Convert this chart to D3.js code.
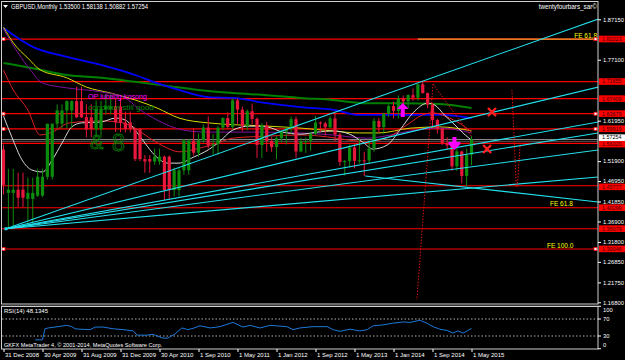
<!DOCTYPE html>
<html>
<head>
<meta charset="utf-8">
<script src="https://cdn.jsdelivr.net/npm/d3@7"></script>
<style>
  body { margin: 0; background: #000; }
  svg { display: block; font-family: "Liberation Sans", Arial, sans-serif; }
</style>
</head>
<body>
<svg id="chart" width="625" height="360"></svg>
<script>
// ---- data (bar index, price) ----
const tickBars = [0, 8, 16, 24, 32, 40, 48, 56, 64, 72, 80, 88, 96];
const tickLabels = ["31 Dec 2008", "30 Apr 2009", "31 Aug 2009", "31 Dec 2009", "30 Apr 2010",
  "1 Sep 2010", "1 May 2011", "1 Jan 2012", "1 Sep 2012", "1 May 2013", "1 Jan 2014",
  "1 Sep 2014", "1 May 2015"];
const priceTicks = [1.87150, 1.77100, 1.61950, 1.51900, 1.46950, 1.41850, 1.36900,
  1.31800, 1.26850, 1.21750, 1.16800];
const rsiTicks = [[100, 310], [70, 319], [30, 336], [0, 345]];   // level, label row

// early history comes in repeated pairs of bars
const opens = [1.548,1.440,1.440,1.448,1.448,1.425,1.425,1.433,1.433,1.480,
  1.480,1.612,1.612,1.645,1.645,1.668,1.668,1.628,1.628,1.598,
  1.598,1.648,1.648,1.655,1.655,1.615,1.615,1.599,1.599,1.524,
  1.524,1.518,1.518,1.530,1.530,1.447,1.447,1.496,1.496,1.570,
  1.540,1.571,1.6025,1.5575,1.561,1.602,1.626,1.604,1.670,1.647,
  1.606,1.643,1.624,1.559,1.608,1.569,1.554,1.576,1.592,1.600,
  1.623,1.543,1.5685,1.569,1.587,1.615,1.613,1.603,1.625,1.585,
  1.517,1.519,1.553,1.5195,1.521,1.5205,1.550,1.619,1.6035,1.637,
  1.656,1.644,1.6745,1.6675,1.683,1.6765,1.710,1.688,1.6595,1.621,
  1.5995,1.564,1.558,1.506,1.543,1.482,1.535];
const highs = [1.560,1.500,1.500,1.490,1.490,1.478,1.478,1.500,1.500,1.612,
  1.612,1.660,1.660,1.670,1.670,1.704,1.704,1.660,1.660,1.669,
  1.669,1.685,1.685,1.676,1.676,1.642,1.642,1.601,1.601,1.534,
  1.534,1.550,1.550,1.533,1.533,1.503,1.503,1.574,1.574,1.600,
  1.5875,1.6105,1.630,1.586,1.606,1.628,1.640,1.6745,1.6745,1.6545,
  1.6475,1.662,1.628,1.614,1.6165,1.578,1.5805,1.595,1.606,1.630,
  1.630,1.5775,1.5775,1.591,1.631,1.618,1.617,1.6305,1.638,1.590,
  1.522,1.560,1.561,1.575,1.542,1.572,1.626,1.626,1.639,1.660,
  1.6665,1.682,1.682,1.6855,1.6995,1.711,1.719,1.6895,1.664,1.624,
  1.601,1.5785,1.559,1.555,1.545,1.550,1.58138];
const lows = [1.436,1.352,1.352,1.405,1.405,1.366,1.366,1.430,1.430,1.473,
  1.473,1.600,1.600,1.600,1.600,1.626,1.626,1.578,1.578,1.578,
  1.578,1.635,1.635,1.591,1.591,1.590,1.590,1.519,1.519,1.490,
  1.490,1.510,1.510,1.423,1.423,1.431,1.431,1.485,1.485,1.533,
  1.5295,1.565,1.551,1.535,1.5345,1.596,1.599,1.598,1.6115,1.593,
  1.5955,1.610,1.527,1.527,1.542,1.542,1.5235,1.5645,1.560,1.587,
  1.527,1.5405,1.5395,1.545,1.584,1.591,1.583,1.600,1.568,1.5075,
  1.483,1.503,1.501,1.513,1.4815,1.512,1.542,1.5895,1.5855,1.629,
  1.625,1.625,1.646,1.651,1.669,1.669,1.687,1.6505,1.605,1.5875,
  1.559,1.5485,1.495,1.495,1.4635,1.4565,1.50882];
const closes = [1.460,1.448,1.448,1.428,1.428,1.440,1.440,1.480,1.480,1.612,
  1.612,1.645,1.645,1.668,1.668,1.628,1.628,1.598,1.598,1.648,
  1.648,1.655,1.655,1.615,1.615,1.599,1.599,1.524,1.524,1.518,
  1.518,1.530,1.530,1.447,1.447,1.496,1.496,1.570,1.570,1.540,
  1.571,1.6025,1.5575,1.561,1.602,1.626,1.604,1.670,1.647,1.606,
  1.643,1.624,1.559,1.608,1.569,1.554,1.576,1.592,1.600,1.623,
  1.543,1.5685,1.569,1.587,1.615,1.613,1.603,1.625,1.585,1.517,
  1.519,1.553,1.5195,1.521,1.5205,1.550,1.619,1.6035,1.637,1.656,
  1.644,1.6745,1.6675,1.683,1.6765,1.710,1.688,1.6595,1.621,1.5995,
  1.564,1.558,1.506,1.543,1.482,1.535,1.57254];

// moving averages, [bar, price]
const maBlue = [[0,1.850],[6,1.803],[13,1.778],[20,1.758],[27,1.733],[31.5,1.713],[36,1.696],[42,1.678],
  [47,1.676],[54,1.663],[61,1.653],[68,1.646],[72.5,1.634],[83,1.634],[89.5,1.634],[96,1.626]];
const maGreen = [[0,1.763],[6,1.750],[13,1.733],[20,1.726],[27,1.716],[33.5,1.706],[40,1.696],[47,1.688],
  [54,1.683],[61,1.676],[67.5,1.671],[74.5,1.663],[81,1.663],[89.5,1.661],[96,1.651]];
const maYellow = [[0,1.852],[2,1.813],[5,1.775],[7.5,1.746],[13,1.726],[17,1.703],[22,1.688],[27,1.671],
  [31.5,1.651],[36,1.626],[42,1.614],[54,1.606],[61,1.601],[67.5,1.594],[73,1.589],[77,1.589],
  [83.5,1.601],[89.5,1.604],[96,1.594]];
const maPurple = [[0,1.847],[3,1.788],[5.5,1.746],[8,1.713],[13,1.701],[20,1.691],[25,1.676],[27.5,1.651],
  [31.5,1.621],[37,1.596],[42,1.591],[54,1.591],[61,1.589],[67.5,1.584],[74.5,1.576],[79.5,1.584],
  [83.5,1.594],[89.5,1.601],[96,1.589]];
const maRed = [[0,1.745],[2,1.696],[5,1.646],[7.5,1.584],[10,1.591],[13.5,1.614],[20,1.619],[24.5,1.614],
  [27,1.601],[30,1.576],[33.5,1.552],[36,1.542],[40.5,1.552],[44,1.564],[47,1.576],[54,1.581],[61,1.584],
  [66.5,1.579],[71,1.571],[74.5,1.567],[79,1.579],[83,1.611],[86,1.634],[88,1.639],[91.5,1.626],
  [95,1.601],[96,1.591]];
const maWhite = [[0,1.631],[1.7,1.579],[3.8,1.522],[5.8,1.497],[8,1.492],[10,1.522],[12,1.564],[14,1.604],
  [16,1.614],[20,1.616],[23,1.626],[25,1.621],[27,1.596],[29,1.564],[31,1.534],[33.7,1.514],[36,1.514],
  [39,1.529],[42,1.547],[44,1.564],[47,1.596],[50.5,1.606],[54,1.604],[57.3,1.591],[61,1.586],
  [64.3,1.591],[67.6,1.594],[71,1.586],[73.7,1.566],[75.8,1.549],[78.7,1.559],[81.3,1.596],[84,1.639],
  [87,1.663],[88.5,1.658],[90.5,1.633],[92.6,1.609],[94.7,1.584],[96,1.571]];

const rsiPoints = [[6.5,21],[8,21],[8.5,47],[9.2,49],[13,55],[14,52],[14.7,47],[15.7,46],[17.8,45],
  [18.8,51],[20.4,51],[22.5,47],[24.5,45],[26.6,42],[27.4,32],[29.4,32],[30.7,34],[32.7,25],[33.7,25],
  [35.2,35],[36.6,49],[37.8,45],[38.9,48],[40.3,54],[42.4,49],[44.4,52],[46.5,60],[47.1,62],[49.1,51],
  [50.6,55],[52.6,49],[54.7,55],[58.1,52],[59.4,45],[60.8,49],[63.5,52],[66.4,52],[67.6,45],[69,41],
  [71.1,46],[73.1,42],[74.6,45],[75.8,54],[77.8,56],[79.8,60],[81.9,63],[83.4,62],[85.4,67],[86.9,60],
  [88.1,52],[89.5,46],[91,43],[92.2,37],[93.2,42],[94.3,37],[95.3,43],[96,48.13]];

// horizontal lines and fan lines
const hLevels = [1.82223, 1.71655, 1.67409, 1.63679, 1.59919, 1.56320, 1.45777, 1.40299, 1.35079, 1.30046];
const bidPrice = 1.57254;
const fanOrigin = [0.5, 1.3508];
const fanEnds = [1.8722, 1.7032, 1.6163, 1.5889, 1.5466, 1.4795];   // price at right edge (bar 122)
const downLine = [[74.2, 1.4820], [122, 1.4174]];
const dotLines = [[[88.1, 1.7106], [96.1, 1.5789]], [[88.1, 1.7106], [84.8, 1.1738]],
  [[104.3, 1.6958], [105.2, 1.4547]], [[106, 1.5640], [105.4, 1.4547]]];
const feLabels = [["FE 61.8", 1.82223, 597, "end"], ["FE 61.8", 1.40299, 550, "start"],
  ["FE 100.0", 1.30046, 547, "start"]];

// ---- drawing ----
const W = 625, H = 360;
const svg = d3.select("#chart");
svg.append("rect").attr("width", W).attr("height", H).attr("fill", "#000");

const x = d3.scaleLinear().domain([0, 96]).range([3.5, 471.5]);
const y = d3.scaleLinear().domain([1.8715, 1.168]).range([19.3, 302.3]);
const yr = d3.scaleLinear().domain([0, 100]).range([348.75, 306.25]);
const right = 598, mainBottom = 304;

svg.append("clipPath").attr("id", "mainClip")
  .append("rect").attr("x", 2).attr("y", 2).attr("width", right - 2).attr("height", mainBottom - 2);
const g = svg.append("g").attr("clip-path", "url(#mainClip)");

// red horizontal levels
g.selectAll(".hl").data(hLevels).enter().append("line")
  .attr("x1", 2).attr("x2", right).attr("y1", d => y(d)).attr("y2", d => y(d))
  .attr("stroke", "#ff0000").attr("stroke-width", 1.2);
g.append("line").attr("x1", x(85)).attr("x2", right - 2)
  .attr("y1", y(hLevels[0])).attr("y2", y(hLevels[0]))
  .attr("stroke", "#f0a030").attr("stroke-width", 1.2);
g.append("line").attr("x1", 2).attr("x2", right).attr("y1", y(bidPrice)).attr("y2", y(bidPrice))
  .attr("stroke", "#909090").attr("stroke-width", 1);
g.append("line").attr("x1", 2).attr("x2", right).attr("y1", y(bidPrice) + 1.8).attr("y2", y(bidPrice) + 1.8)
  .attr("stroke", "#505050").attr("stroke-width", 1);

// moving averages
const line = d3.line().x(d => x(d[0])).y(d => y(d[1])).curve(d3.curveMonotoneX);
[[maGreen, "#008000", 2], [maBlue, "#0000ff", 1.8], [maYellow, "#d8d800", 1], [maPurple, "#8010a0", 1],
 [maRed, "#e02020", 1], [maWhite, "#d8d8d8", 1]].forEach(([pts, col, w]) => {
  g.append("path").attr("d", line(pts)).attr("fill", "none").attr("stroke", col).attr("stroke-width", w);
});

// candles
const bars = d3.range(opens.length);
const up = i => closes[i] >= opens[i];
const candleCol = i => up(i) ? "#0c8c0c" : "#e8173c";
g.selectAll(".wick").data(bars).enter().append("line")
  .attr("x1", i => x(i)).attr("x2", i => x(i))
  .attr("y1", i => y(highs[i])).attr("y2", i => y(lows[i]))
  .attr("stroke", candleCol).attr("stroke-width", 1);
g.selectAll(".body").data(bars).enter().append("rect")
  .attr("x", i => x(i) - 1.6).attr("width", 3.2)
  .attr("y", i => y(Math.max(opens[i], closes[i])))
  .attr("height", i => Math.max(1, Math.abs(y(opens[i]) - y(closes[i]))))
  .attr("fill", candleCol);

// fan lines
fanEnds.forEach(p => {
  g.append("line").attr("x1", x(fanOrigin[0])).attr("y1", y(fanOrigin[1]))
    .attr("x2", x(122)).attr("y2", y(p)).attr("stroke", "#22e0ee").attr("stroke-width", 1.1);
});
g.append("line").attr("x1", x(downLine[0][0])).attr("y1", y(downLine[0][1]))
  .attr("x2", x(downLine[1][0])).attr("y2", y(downLine[1][1]))
  .attr("stroke", "#22e0ee").attr("stroke-width", 1.1);
g.append("rect").attr("x", x(fanOrigin[0]) - 1.5).attr("y", y(fanOrigin[1]) - 1.5)
  .attr("width", 3).attr("height", 3).attr("fill", "#22e0ee");

// dotted red
dotLines.forEach(pts => {
  g.append("line").attr("x1", x(pts[0][0])).attr("y1", y(pts[0][1]))
    .attr("x2", x(pts[1][0])).attr("y2", y(pts[1][1]))
    .attr("stroke", "#e01010").attr("stroke-width", 1).attr("stroke-dasharray", "1.5,1.5");
});

// markers: crosses and arrows
[[100.2, 1.6411], [99.2, 1.5491]].forEach(([b, p]) => {
  const cx = x(b), cy = y(p);
  g.append("path").attr("d", `M${cx-4},${cy-4}L${cx+4},${cy+4}M${cx+4},${cy-4}L${cx-4},${cy+4}`)
    .attr("stroke", "#ff2020").attr("stroke-width", 2.4);
});
{
  const cx = x(81.9), cy = y(1.6510);
  g.append("path").attr("d", `M${cx},${cy-5}L${cx+6},${cy+1}L${cx+2},${cy+1}L${cx+2},${cy+9}L${cx-2},${cy+9}L${cx-2},${cy+1}L${cx-6},${cy+1}Z`)
    .attr("fill", "#ff00ff");
  const dx = x(92.5), dy = y(1.5615);
  g.append("path").attr("d", `M${dx-2},${dy-7}L${dx+2},${dy-7}L${dx+2},${dy}L${dx+6},${dy}L${dx},${dy+6}L${dx-6},${dy}L${dx-2},${dy}Z`)
    .attr("fill", "#ff00ff");
  g.append("rect").attr("x", dx - 6).attr("y", dy - 2).attr("width", 12).attr("height", 2).attr("fill", "#ff00ff");
}

// text objects
g.append("text").attr("x", 88).attr("y", 98.5).attr("font-size", 7.2).attr("fill", "#ff00ff").text("OP lubang kosong");
g.append("text").attr("x", 88).attr("y", 109.5).attr("font-size", 8).attr("fill", "#008800").text("condition still good");
g.append("text").attr("x", 90).attr("y", 149).attr("font-size", 20).attr("fill", "none")
  .attr("stroke", "#008000").attr("stroke-width", 0.8).text("&");
g.append("text").attr("x", 112).attr("y", 151).attr("font-size", 23).attr("fill", "none")
  .attr("stroke", "#008000").attr("stroke-width", 0.8).text("8");
feLabels.forEach(([t, p, tx, anchor]) => {
  g.append("text").attr("x", tx).attr("y", y(p) - 1.5).attr("font-size", 6.5).attr("fill", "#ffff00")
    .attr("text-anchor", anchor).text(t);
});

// level anchor squares
[hLevels[0], hLevels[3], hLevels[4], hLevels[9]].forEach(p => {
  [3.5, right - 2.5].forEach(cx => {
    svg.append("rect").attr("x", cx - 1.5).attr("y", y(p) - 1.5).attr("width", 3).attr("height", 3)
      .attr("fill", "#fff").attr("stroke", "#ff0000").attr("stroke-width", 0.8);
  });
});

// panel frames
svg.append("rect").attr("x", 1.5).attr("y", 1.5).attr("width", right - 1.5).attr("height", mainBottom - 1.5)
  .attr("fill", "none").attr("stroke", "#d0d0d0").attr("stroke-width", 1);
svg.append("line").attr("x1", 1).attr("x2", right).attr("y1", 306).attr("y2", 306).attr("stroke", "#707070");
svg.append("rect").attr("x", 1.5).attr("y", 306.5).attr("width", right - 1.5).attr("height", 42.5)
  .attr("fill", "none").attr("stroke", "#d0d0d0").attr("stroke-width", 1);

// price axis
const yAxis = svg.append("g").attr("transform", `translate(${right},0)`)
  .call(d3.axisRight(y).tickValues(priceTicks).tickFormat(d3.format(".5f")).tickSize(3).tickPadding(2));
yAxis.select(".domain").remove();
yAxis.selectAll("line").attr("stroke", "#fff");
yAxis.selectAll("text").attr("fill", "#fff").attr("font-size", 5.8).attr("font-family", "Liberation Sans");

// price boxes for levels
hLevels.forEach(p => {
  const top = p === 1.56320 ? y(p) - 2.5 : (p === 1.45777 ? y(p) - 2.2 : y(p) - 3.4);
  svg.append("rect").attr("x", right + 1).attr("y", top).attr("width", 26).attr("height", 6.6).attr("fill", "#ff0000");
  svg.append("text").attr("x", right + 4).attr("y", top + 5.2).attr("font-size", 5.4).attr("fill", "#400000")
    .text(d3.format(".5f")(p));
});
svg.append("rect").attr("x", right + 1).attr("y", y(bidPrice) - 5.2).attr("width", 26).attr("height", 6.6).attr("fill", "#fff");
svg.append("text").attr("x", right + 4).attr("y", y(bidPrice) - 0.2).attr("font-size", 5.4).attr("fill", "#000")
  .text(d3.format(".5f")(bidPrice));

// RSI panel
[70, 30].forEach(v => {
  svg.append("line").attr("x1", 2).attr("x2", right).attr("y1", yr(v)).attr("y2", yr(v))
    .attr("stroke", "#b0b0b0").attr("stroke-dasharray", "1.5,2");
});
svg.append("path").attr("d", d3.line().x(d => x(d[0])).y(d => yr(d[1]))(rsiPoints))
  .attr("fill", "none").attr("stroke", "#1e78d8").attr("stroke-width", 1);
rsiTicks.forEach(([v, row]) => {
  svg.append("line").attr("x1", right).attr("x2", right + 3).attr("y1", yr(v)).attr("y2", yr(v)).attr("stroke", "#fff");
  svg.append("text").attr("x", right + 5).attr("y", row + 2).attr("font-size", 5.8).attr("fill", "#fff").text(v);
});
svg.append("text").attr("x", 4).attr("y", 313).attr("font-size", 6).attr("fill", "#fff").text("RSI(14) 48.1345");
svg.append("text").attr("x", 4).attr("y", 347).attr("font-size", 5.6).attr("fill", "#fff")
  .text("GKFX MetaTrader 4, © 2001-2014, MetaQuotes Software Corp.");

// time axis
const xAxis = svg.append("g").attr("transform", "translate(0,349)")
  .call(d3.axisBottom(x).tickValues(tickBars).tickFormat((d, i) => tickLabels[i]).tickSize(3).tickPadding(1));
xAxis.select(".domain").remove();
xAxis.selectAll("line").attr("stroke", "#fff");
xAxis.selectAll("text").attr("fill", "#fff").attr("font-size", 6).attr("font-family", "Liberation Sans")
  .attr("text-anchor", "start").attr("dx", 1);

// title
svg.append("path").attr("d", "M3,5L8,5L5.5,8Z").attr("fill", "#fff");
svg.append("text").attr("x", 11).attr("y", 8.5).attr("font-size", 6.5).attr("fill", "#fff")
  .attr("textLength", 137).attr("lengthAdjust", "spacingAndGlyphs")
  .text("GBPUSD,Monthly  1.53500 1.58138 1.50882 1.57254");
svg.append("text").attr("x", 597).attr("y", 9).attr("font-size", 6.3).attr("fill", "#fff")
  .attr("text-anchor", "end").text("twentyfourbars_sar©");
</script>
</body>
</html>
